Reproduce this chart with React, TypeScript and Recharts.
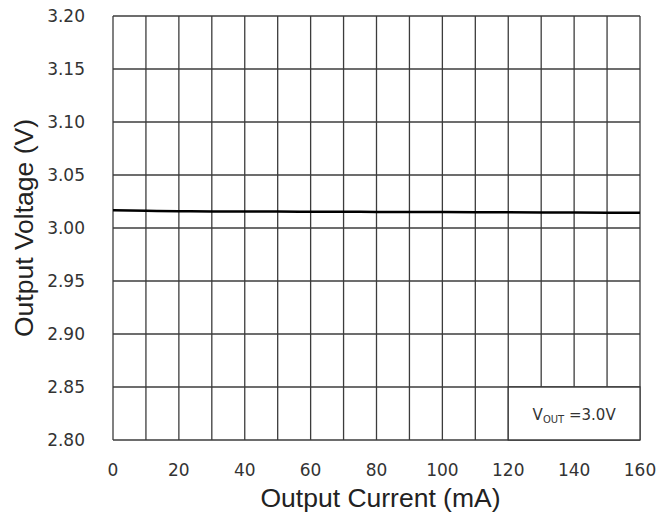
import { LineChart, Line, XAxis, YAxis, CartesianGrid, ReferenceArea, Label } from "recharts";

const currents = [0, 10, 20, 30, 40, 50, 60, 70, 80, 90, 100, 110, 120, 130, 140, 150, 160];
const voltages = [
  3.0168, 3.0163, 3.0158, 3.0156, 3.0155, 3.0155, 3.0154, 3.0153, 3.0152,
  3.0151, 3.015, 3.0149, 3.0148, 3.0147, 3.0146, 3.0145, 3.0143,
];
const xTicks = [0, 10, 20, 30, 40, 50, 60, 70, 80, 90, 100, 110, 120, 130, 140, 150, 160];
const yTicks = [2.8, 2.85, 2.9, 2.95, 3.0, 3.05, 3.1, 3.15, 3.2];

const data = currents.map((c, i) => ({ current: c, voltage: voltages[i] }));

const gridColor = "#3c3c3c";
const tickFont = { fontFamily: "DejaVu Sans", fontSize: 17, fill: "#333" };
const titleFont = "Liberation Sans";

export default function App() {
  return (
    <div style={{ position: "absolute", left: 0, top: 0, width: 672, height: 512, background: "#fff" }}>
      <LineChart
        width={672}
        height={512}
        data={data}
        margin={{ top: 16, right: 32, bottom: 0, left: 0 }}
      >
        <CartesianGrid
          stroke={gridColor}
          strokeWidth={1.3}
          strokeDasharray="0"
        />
        <XAxis
          dataKey="current"
          type="number"
          domain={[0, 160]}
          ticks={xTicks}
          tickFormatter={(v) => (v % 20 === 0 ? String(v) : "")}
          tick={tickFont}
          tickLine={false}
          axisLine={false}
          tickSize={0}
          tickMargin={24}
          height={72}
          interval={0}
        >
          <Label
            content={({ viewBox }: any) => (
              <text
                x={viewBox.x + viewBox.width / 2 + 4}
                y={507}
                textAnchor="middle"
                fontFamily={titleFont}
                fontSize={26.5}
                fill="#222"
              >
                Output Current (mA)
              </text>
            )}
          />
        </XAxis>
        <YAxis
          type="number"
          domain={[2.8, 3.2]}
          ticks={yTicks}
          tickFormatter={(v) => Number(v).toFixed(2)}
          tick={tickFont}
          tickLine={false}
          axisLine={false}
          tickSize={0}
          tickMargin={28}
          width={113}
          interval={0}
        >
          <Label
            content={({ viewBox }: any) => {
              const cy = viewBox.y + viewBox.height / 2;
              return (
                <text
                  x={33}
                  y={cy}
                  transform={`rotate(-90, 33, ${cy})`}
                  textAnchor="middle"
                  fontFamily={titleFont}
                  fontSize={26.5}
                  fill="#222"
                >
                  Output Voltage (V)
                </text>
              );
            }}
          />
        </YAxis>
        <ReferenceArea
          x1={120}
          x2={160}
          y1={2.8}
          y2={2.85}
          fill="#fff"
          fillOpacity={1}
          stroke={gridColor}
          strokeWidth={1.3}
          label={({ viewBox }: any) => (
            <text
              x={viewBox.x + viewBox.width / 2}
              y={viewBox.y + viewBox.height / 2 + 6}
              textAnchor="middle"
              fontFamily="DejaVu Sans"
              fontSize={15}
              fill="#333"
            >
              V
              <tspan fontSize={10} dy={3}>OUT</tspan>
              <tspan dy={-3}> =3.0V</tspan>
            </text>
          )}
        />
        <Line
          type="monotone"
          dataKey="voltage"
          stroke="#000"
          strokeWidth={2.5}
          dot={false}
          isAnimationActive={false}
        />
      </LineChart>
      <span
        style={{
          position: "absolute",
          left: -7,
          top: 456,
          fontFamily: "DejaVu Sans",
          fontSize: 17,
          color: "#555",
        }}
      >
        )
      </span>
    </div>
  );
}
